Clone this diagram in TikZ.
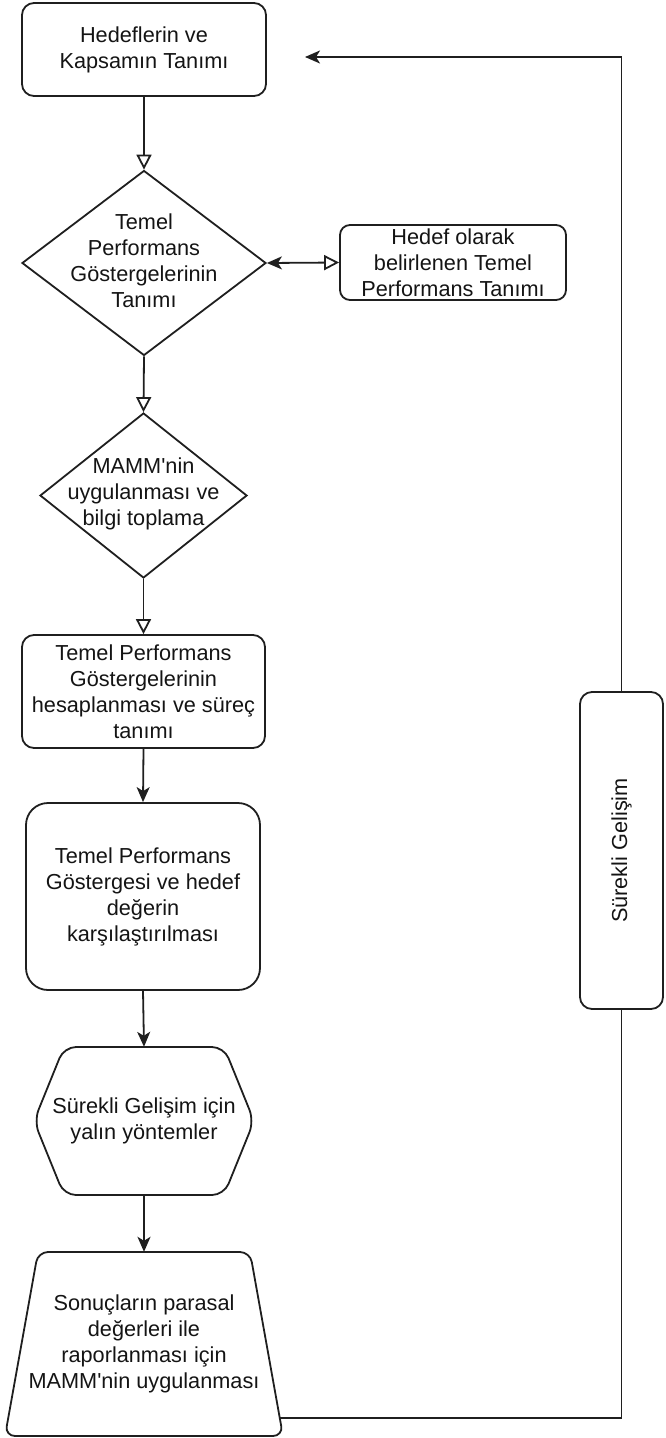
\documentclass[tikz,border=0pt]{standalone}
\usepackage{fontspec}
\setmainfont{Liberation Sans}
\usetikzlibrary{arrows.meta,shapes.geometric}
\begin{document}
\begin{tikzpicture}[x=1pt,y=-1pt,
  every node/.style={font=\fontsize{21.7}{26}\selectfont, align=center, text=black!92},
  line/.style={line width=1.8pt, draw=black!88},
  proc/.style={draw=black!88, line width=1.8pt, rounded corners=12pt, inner sep=0pt},
  dec/.style={diamond, draw=black!88, line width=1.8pt, inner sep=0pt},
  label/.style={inner sep=0pt},
  fillarrow/.style={-{Stealth[length=15pt,width=13pt,inset=4pt]}},
  openarrow/.style={-{Triangle[open,length=15pt,width=15pt,fill=white]}},
]
\useasboundingbox (0,0) rectangle (665,1438);

% main flow
\node[proc, minimum width=244, minimum height=93] (goal) at (144,49.5)
  {Hedeflerin ve\\Kapsamın Tanımı};

\node[dec, minimum width=244, minimum height=185] (kpi) at (144,263) {};
\node[label] (kpitxt) at (144,261) {Temel\\Performans\\Göstergelerinin\\Tanımı};

\node[proc, rounded corners=10pt, minimum width=226, minimum height=75] (target) at (453,262.5)
  {Hedef olarak\\belirlenen Temel\\Performans Tanımı};

\node[dec, minimum width=207, minimum height=165] (mamm) at (143.5,495.5) {};
\node[label] (mammtxt) at (143.5,494)
  {MAMM\textquotesingle nin\\uygulanması ve\\bilgi toplama};

\node[proc, minimum width=243, minimum height=113] (calc) at (143.5,691.5)
  {Temel Performans\\Göstergelerinin\\hesaplanması ve süreç\\tanımı};

\node[proc, rounded corners=22pt, minimum width=234, minimum height=187] (cmp) at (143,896.5)
  {Temel Performans\\Göstergesi ve hedef\\değerin\\karşılaştırılması};

% hexagon
\node[label, minimum width=220, minimum height=148] (lean) at (144,1121)
  {Sürekli Gelişim için\\yalın yöntemler};
\draw[line, rounded corners=12pt] (144,1047) -- (224,1047) -- (254,1121) -- (224,1195)
  -- (64,1195) -- (34,1121) -- (64,1047) -- cycle;

% trapezoid
\node[label, minimum width=200, minimum height=184] (report) at (144,1344)
  {Sonuçların parasal\\değerleri ile\\raporlanması için\\MAMM\textquotesingle nin uygulanması};
\draw[line, rounded corners=10pt] (144,1252) -- (250,1252) -- (283,1436) -- (5,1436)
  -- (38,1252) -- cycle;
\coordinate (trapout) at (280,1418);

% feedback box
\node[proc, minimum width=83, minimum height=317] (cont) at (621.5,850.5) {};
\node[label, rotate=90] (conttxt) at (cont.center) {Sürekli Gelişim};
\coordinate (backtip) at (305,57);

% connectors
\draw[line, openarrow] (goal.south) -- (kpi.north);
\draw[line, {Stealth[length=15pt,width=13pt,inset=4pt]}-{Triangle[open,length=15pt,width=15pt,fill=white]}]
  (kpi.east) -- (target.west);
\draw[line, openarrow] (kpi.south) -- (mamm.north);
\draw[line, openarrow] (mamm.south) -- (calc.north);
\draw[line, fillarrow] (calc.south) -- (cmp.north);
\draw[line, fillarrow] (cmp.south) -- (lean.north);
\draw[line, fillarrow] (lean.south) -- (report.north);
\draw[line] (trapout) -| (cont.south);
\draw[line, fillarrow] (cont.north) |- (backtip);
\end{tikzpicture}
\end{document}
